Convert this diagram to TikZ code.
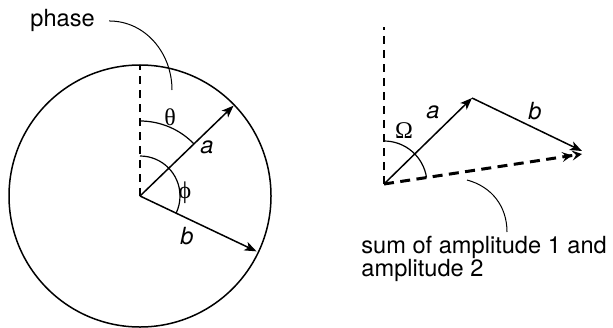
\documentclass[tikz,border=0pt]{standalone}
\usepackage{fontspec}
\setmainfont{TeX Gyre Heros}
\newfontfamily\greekfont{Liberation Serif}
\usetikzlibrary{arrows.meta, calc}

\begin{document}
\begin{tikzpicture}[
    x=0.5pt, y=0.5pt,
    >={Stealth[length=6pt, width=4.6pt, inset=1.6pt]},
    vec/.style={->, line width=0.75pt},
    axis/.style={line width=0.75pt, dash pattern=on 4pt off 3pt},
    sumvec/.style={line width=1.5pt, dash pattern=on 5pt off 3.2pt,
        -{Stealth[length=5pt, width=5pt, inset=2pt]Stealth[length=5pt, width=5pt, inset=2pt]}},
    angarc/.style={line width=0.6pt},
    leader/.style={line width=0.5pt},
    lbl/.style={inner sep=0pt, font=\fontsize{11.8}{11.5}\selectfont},
    veclbl/.style={lbl, font=\fontsize{11.8}{11.5}\selectfont\itshape},
    greek/.style={inner sep=0pt, font=\fontsize{12}{12}\selectfont\greekfont},
]
\useasboundingbox (0,0) rectangle (613,327);

% ============================================================
%  Left: circle with a and b
% ============================================================
\coordinate (O1) at (140,131);
\coordinate (topA) at ($(O1)+(90:131)$);
\coordinate (tipA) at ($(O1)+(44:130)$);
\coordinate (tipB) at ($(O1)+(-25.4:129)$);

\draw[line width=0.75pt] (O1) circle[radius=131];
\draw[axis] (O1) -- (topA);
\draw[vec] (O1) -- (tipA);
\draw[vec] (O1) -- (tipB);

% angle arcs
\draw[angarc] ($(O1)+(90:75)$) arc[start angle=90, end angle=44, radius=75];
\draw[angarc] ($(O1)+(90:40)$) arc[start angle=90, end angle=-25.4, radius=40];

\node[greek] (theta) at (170,210) {θ};
\node[greek] (phi) at (185,134) {ϕ};
\node[veclbl] (labA) at (207,180) {a};
\node[veclbl] (labB) at (187,91) {b};

% phase label and leader
\node[lbl, anchor=base west] (phase) at (30,300) {phase};
\coordinate (phaseEnd) at (172,237);
\draw[leader] ($(phase.east)+(14,0)$) to[out=0, in=90] (phaseEnd);

% ============================================================
%  Right: a + b
% ============================================================
\coordinate (O2) at (384,143);
\coordinate (topB) at (384,300);
\coordinate (A) at (472,229);
\coordinate (B) at (582,176);
\coordinate (R) at (582,173);

\draw[axis] (O2) -- (topB);
\draw[vec] (O2) -- (A);
\draw[vec] (A) -- (B);
\draw[sumvec] (O2) -- (R);

\draw[angarc] ($(O2)+(90:43)$) arc[start angle=90, end angle=8.6, radius=43];

\node[greek] (omega) at (404,196) {Ω};
\node[veclbl] (labA2) at (433,215) {a};
\node[veclbl] (labB2) at (535,216) {b};

% sum label and leader
\node[lbl, anchor=base west, align=left] (sum) at (361,51)
    {sum of amplitude 1 and\\amplitude 2};
\coordinate (sumStart) at (467,147);
\coordinate (sumEnd) at (507,95);
\draw[leader] (sumStart) to[out=-15, in=90] (sumEnd);

\end{tikzpicture}
\end{document}
